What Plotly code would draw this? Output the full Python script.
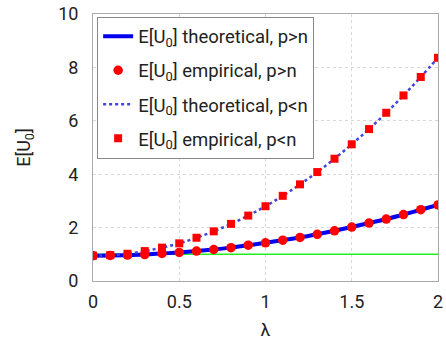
import plotly.graph_objects as go

lam = [0.0, 0.1, 0.2, 0.3, 0.4, 0.5, 0.6, 0.7, 0.8, 0.9, 1.0,
       1.1, 1.2, 1.3, 1.4, 1.5, 1.6, 1.7, 1.8, 1.9, 2.0]
emp_pgn = [0.95, 0.955, 0.97, 0.99, 1.03, 1.07, 1.12, 1.18, 1.25, 1.34, 1.43,
           1.53, 1.63, 1.75, 1.88, 2.02, 2.17, 2.32, 2.49, 2.67, 2.85]
theo_pgn = [0.95, 0.955, 0.97, 0.99, 1.03, 1.07, 1.12, 1.18, 1.25, 1.34, 1.43,
            1.53, 1.63, 1.75, 1.88, 2.02, 2.17, 2.32, 2.49, 2.67, 2.85]
emp_pln = [0.95, 0.97, 1.02, 1.12, 1.25, 1.41, 1.62, 1.86, 2.14, 2.45, 2.80,
           3.19, 3.62, 4.08, 4.58, 5.12, 5.69, 6.30, 6.95, 7.64, 8.36]
theo_pln = [0.95, 0.97, 1.02, 1.12, 1.25, 1.41, 1.62, 1.86, 2.14, 2.45, 2.80,
            3.19, 3.62, 4.08, 4.58, 5.12, 5.69, 6.30, 6.95, 7.64, 8.36]
ref_x = [0.0, 2.0]
ref_y = [1.0, 1.0]

fig = go.Figure()
fig.add_trace(go.Scatter(x=ref_x, y=ref_y, mode="lines",
                         line=dict(color="#22ee22", width=1.5), showlegend=False))
fig.add_trace(go.Scatter(x=lam, y=theo_pgn, mode="lines", line_shape="spline",
                         line=dict(color="#0000ee", width=4), legendgroup="a",
                         name="E[U<sub>0</sub>] theoretical, p>n"))
fig.add_trace(go.Scatter(x=lam, y=emp_pgn, mode="markers", legendgroup="b",
                         marker=dict(color="#ff0000", size=9.5, symbol="circle"),
                         name="E[U<sub>0</sub>] empirical, p>n"))
fig.add_trace(go.Scatter(x=lam, y=theo_pln, mode="lines", line_shape="spline",
                         line=dict(color="#4444dd", width=2.5, dash="dot"), legendgroup="c",
                         name="E[U<sub>0</sub>] theoretical, p<n"))
fig.add_trace(go.Scatter(x=lam, y=emp_pln, mode="markers", legendgroup="d",
                         marker=dict(color="#ff0000", size=8, symbol="square"),
                         name="E[U<sub>0</sub>] empirical, p<n"))

axis_common = dict(showgrid=True, gridcolor="#d8d8d8", griddash="dot", gridwidth=1,
                   showline=True, linecolor="#aaaaaa", linewidth=1, mirror=True,
                   zeroline=False, ticks="", tickfont=dict(size=18, color="#222222"))

fig.update_layout(
    width=446, height=345,
    margin=dict(l=93, r=3, t=12, b=64),
    paper_bgcolor="white", plot_bgcolor="white",
    font=dict(family="Roboto, Liberation Sans, Arial, sans-serif", color="#222222"),
    xaxis=dict(range=[0, 2], tickvals=[0, 0.5, 1, 1.5, 2],
               ticktext=["0", "0.5", "1", "1.5", "2"], ticklabeloverflow="allow",
               ticklabelstandoff=4,
               title=dict(text="λ", font=dict(size=18), standoff=12), **axis_common),
    yaxis=dict(range=[0, 10], tickvals=[0, 2, 4, 6, 8, 10], ticklabelstandoff=10,
               title=dict(text="E[U<sub>0</sub>]", font=dict(size=18), standoff=22), **axis_common),
    legend=dict(x=0.012, y=0.99, xanchor="left", yanchor="top",
                bgcolor="white", bordercolor="#888888", borderwidth=1,
                font=dict(size=18.5, color="#222222"), tracegroupgap=7,
                itemwidth=30),
    showlegend=True,
)

fig.write_html("out.html")
